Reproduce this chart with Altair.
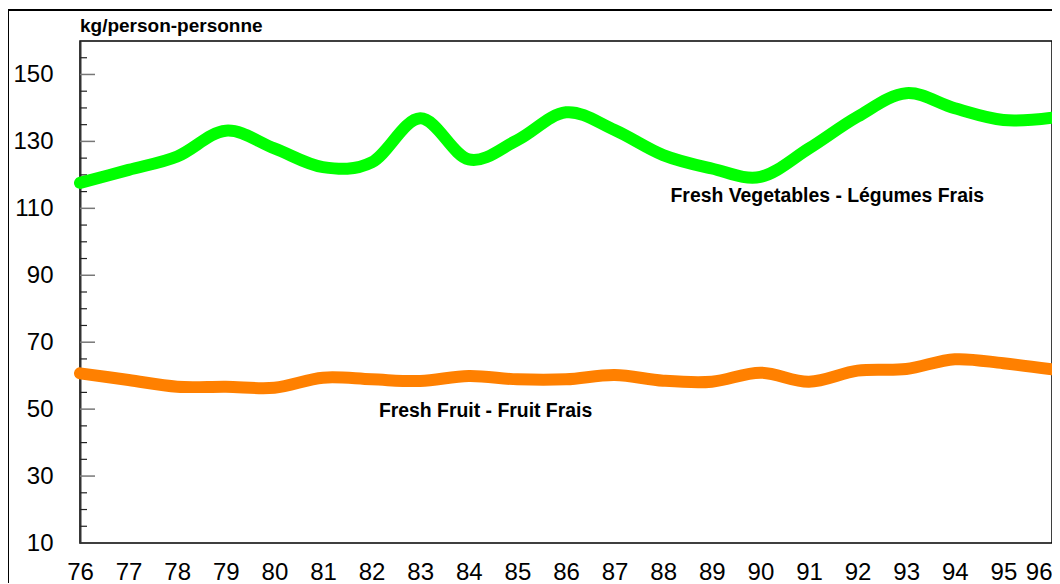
import altair as alt
import pandas as pd

years = [76, 77, 78, 79, 80, 81, 82, 83, 84, 85, 86, 87, 88, 89, 90, 91, 92, 93, 94, 95, 96]
vegetables = [117.6, 121.5, 125.5, 133.2, 127.9, 122.3, 123.7, 136.9, 124.6, 130.4, 138.7,
              133.4, 125.9, 121.9, 119.4, 127.9, 137.4, 144.4, 139.9, 136.4, 137.1]
fruit = [60.7, 58.7, 56.7, 56.7, 56.4, 59.4, 58.9, 58.4, 59.9, 58.9, 58.9,
         60.2, 58.5, 58.2, 60.9, 58.2, 61.5, 62.0, 64.9, 63.7, 61.9]

series_names = ["Fresh Vegetables - Légumes Frais", "Fresh Fruit - Fruit Frais"]
series_colors = ["#00FF00", "#FF8000"]
label_year = [88.15, 82.15]
label_value = [113.7, 49.4]

y_labels = [10, 30, 50, 70, 90, 110, 130, 150]
major_ticks = [30, 50, 70, 90, 110, 130, 150]
minor_ticks = [v for v in range(15, 160, 5) if v not in major_ticks and v != 10]

y_title = "kg/person-personne"

FONT = "Liberation Sans"

rows = []
for name, vals in zip(series_names, [vegetables, fruit]):
    for yr, v in zip(years, vals):
        rows.append({"year": yr, "value": v, "series": name})
df = pd.DataFrame(rows)

labels_df = pd.DataFrame({"year": label_year, "value": label_value, "text": series_names})
major_df = pd.DataFrame({"v": major_ticks})
minor_df = pd.DataFrame({"v": minor_ticks})
title_df = pd.DataFrame({"text": [y_title]})

xscale = alt.Scale(domain=[76, 96], nice=False, zero=False)
yscale = alt.Scale(domain=[10, 160], nice=False, zero=False)

frame = alt.Chart(pd.DataFrame({"a": [0]})).mark_rect(
    fill="white", fillOpacity=0, stroke="black", strokeWidth=2
).encode(
    x=alt.value(-72), x2=alt.value(1200), y=alt.value(-31), y2=alt.value(800)
)

last_year = years[-1]

lines = alt.Chart(df).mark_line(
    strokeWidth=12, interpolate="cardinal", strokeCap="round", strokeJoin="round"
).encode(
    x=alt.X("year:Q", scale=xscale,
            axis=alt.Axis(values=years, format="d", title=None, ticks=False,
                          labelFontSize=24, labelFont=FONT, labelPadding=17,
                          labelFlush=False, labelOverlap=False,
                          labelAlign={"condition": {"test": f"datum.value == {last_year}",
                                                    "value": "right"},
                                      "value": "center"},
                          labelColor="black", domain=False, grid=False)),
    y=alt.Y("value:Q", scale=yscale,
            axis=alt.Axis(values=y_labels, title=None, ticks=False,
                          labelFontSize=24, labelFont=FONT, labelPadding=27,
                          labelColor="black", domainColor="#333333", domainWidth=2,
                          grid=False)),
    color=alt.Color("series:N", scale=alt.Scale(domain=series_names, range=series_colors),
                    legend=None),
    detail="series:N",
)

major = alt.Chart(major_df).mark_rule(color="#777777", strokeWidth=1.5).encode(
    y=alt.Y("v:Q", scale=yscale), x=alt.value(0), x2=alt.value(15)
)
minor = alt.Chart(minor_df).mark_rule(color="#222222", strokeWidth=1.2).encode(
    y=alt.Y("v:Q", scale=yscale), x=alt.value(0), x2=alt.value(7)
)

texts = alt.Chart(labels_df).mark_text(
    align="left", baseline="middle", fontSize=19.4, fontWeight="bold", font=FONT, color="black"
).encode(
    x=alt.X("year:Q", scale=xscale),
    y=alt.Y("value:Q", scale=yscale),
    text="text:N",
)

title = alt.Chart(title_df).mark_text(
    align="left", baseline="alphabetic", fontSize=19, fontWeight="bold", font=FONT, color="black"
).encode(
    x=alt.value(0), y=alt.value(-9), text="text:N"
)

chart = alt.layer(frame, major, minor, lines, texts, title).properties(
    width=972,
    height=502,
    autosize=alt.AutoSizeParams(type="none"),
    padding={"left": 72, "top": 33, "right": 0, "bottom": 40},
    background="white",
).configure_view(
    stroke="black", strokeWidth=1.5
)

chart.save("out.html", embed_options={"renderer": "svg", "actions": False})
